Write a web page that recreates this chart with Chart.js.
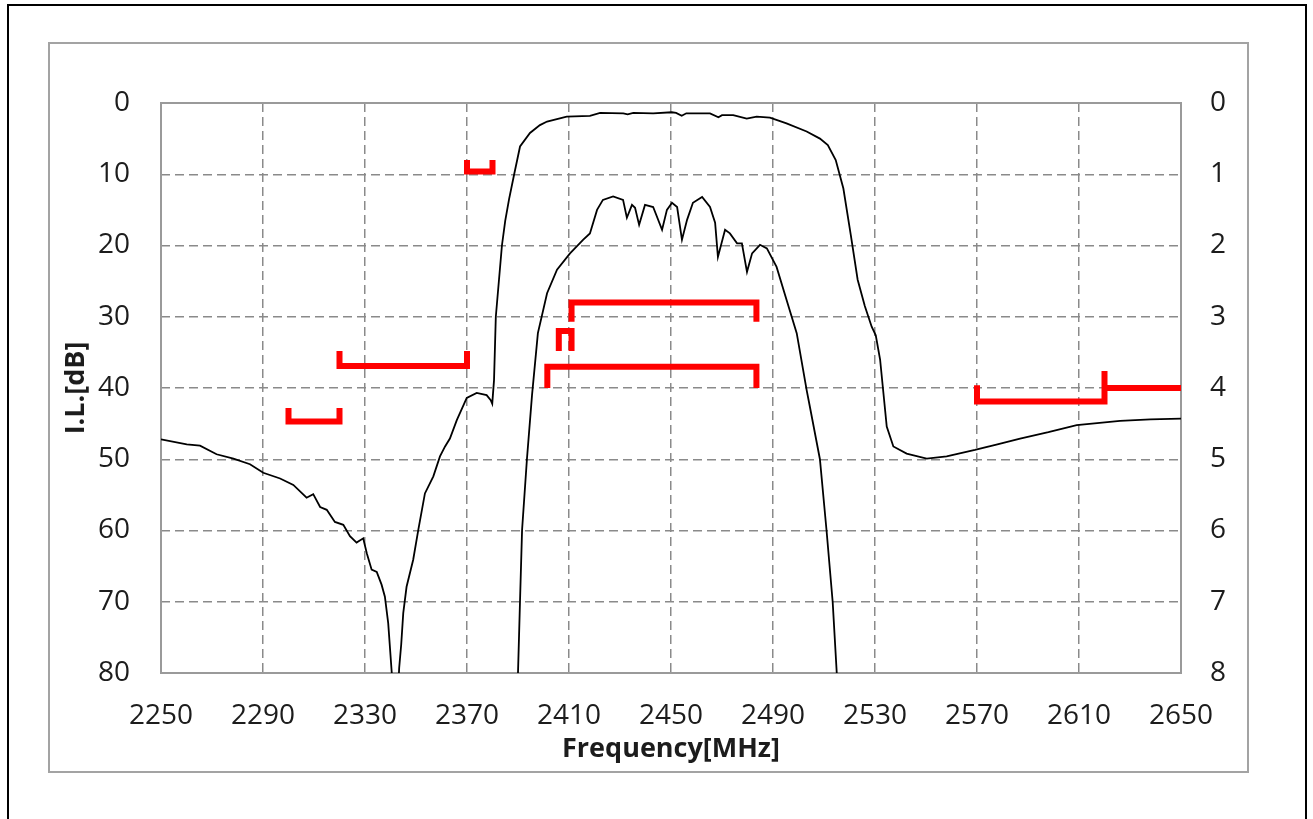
<!DOCTYPE html>
<html>
<head>
<meta charset="utf-8">
<title>I.L. vs Frequency</title>
<script src="https://cdn.jsdelivr.net/npm/chart.js@4/dist/chart.umd.min.js"></script>
<style>
  html, body { margin: 0; padding: 0; background: #fff; }
  #wrap { width: 1313px; height: 819px; }
</style>
</head>
<body>
<div id="wrap"><canvas id="ilChart" width="1313" height="819"></canvas></div>
<script>
// --- Axis ticks ---
const freqTicks = [2250, 2290, 2330, 2370, 2410, 2450, 2490, 2530, 2570, 2610, 2650];
const ilTicksLeft = [0, 10, 20, 30, 40, 50, 60, 70, 80];   // dB, wideband scale
const ilTicksRight = [0, 1, 2, 3, 4, 5, 6, 7, 8];          // dB, passband zoom

// --- Wideband attenuation curve (left axis, dB) ---
const wideFreq = [
  2250, 2260.1, 2265.3, 2271.8, 2278.4, 2284.9, 2290.1, 2296.7, 2301.9, 2307.1,
  2309.7, 2312.4, 2315, 2318.2, 2321.5, 2324.1, 2326.7, 2329.3, 2330.7, 2332.6,
  2334.6, 2336.5, 2337.8, 2339.1, 2340.5, 2341.5, 2342.8, 2343.4, 2344.2, 2345.0,
  2346.3, 2348.9, 2350.9, 2353.5, 2356.8, 2359.4, 2361.4, 2363.3, 2366, 2369.9,
  2373.8, 2377.7, 2379.3, 2379.9, 2380.6, 2381.3, 2383.7, 2385.0, 2386.5, 2388.5,
  2390.8, 2394.7, 2398.6, 2401.4, 2409.1, 2418.2, 2422.2, 2431.3, 2433, 2435.2,
  2443, 2450.3, 2452, 2454.2, 2456, 2458.8, 2465.3, 2468.6, 2470, 2474.4,
  2479.7, 2483.6, 2488.8, 2495.3, 2503.2, 2508.4, 2511.5, 2514.6, 2517.6, 2520.5,
  2523.2, 2526, 2528.7, 2530.3, 2532, 2533.3, 2534.6, 2537.2, 2542.4, 2550.3,
  2558.1, 2569.2, 2578, 2586.9, 2598, 2609.1, 2626.1, 2638, 2650
];
const wideDb = [
  47.2, 47.9, 48.1, 49.3, 49.9, 50.7, 51.9, 52.7, 53.6, 55.4,
  54.9, 56.7, 57.1, 58.8, 59.2, 60.8, 61.7, 61.1, 63.2, 65.5,
  65.8, 67.6, 69.3, 73.0, 80.0, 84, 84, 79.3, 76.0, 71.6,
  67.9, 64.1, 59.9, 54.8, 52.4, 49.6, 48.2, 47.1, 44.5, 41.4,
  40.7, 41.0, 41.7, 42.2, 38.9, 30, 20, 16.5, 13.5, 10,
  6.1, 4.2, 3.1, 2.6, 1.9, 1.8, 1.4, 1.45, 1.6, 1.4,
  1.45, 1.3, 1.4, 1.8, 1.45, 1.45, 1.45, 2.0, 1.7, 1.7,
  2.2, 1.9, 2.06, 2.85, 4.0, 5.0, 5.9, 8.0, 12.0, 18.5,
  24.8, 28.5, 31.4, 32.6, 36.0, 40.7, 45.4, 48.2, 49.2, 49.9,
  49.6, 48.7, 47.9, 47.1, 46.2, 45.2, 44.6, 44.4, 44.3
];

// --- Passband insertion loss curve (right axis, dB) ---
const passFreq = [
  2390, 2390.8, 2391.6, 2393.5, 2395.5, 2397.8, 2401.4, 2405.3, 2410.4, 2415.5,
  2418.2, 2421, 2423.3, 2427.3, 2431.2, 2432.7, 2434.7, 2435.9, 2437.5, 2439.8,
  2443, 2446.5, 2448.4, 2450.4, 2452.4, 2454.3, 2456.3, 2458.6, 2462.2, 2465.3,
  2467.3, 2468.4, 2471.2, 2473.1, 2475.9, 2477.8, 2479.8, 2481.8, 2484.9, 2487.6,
  2491.4, 2495.3, 2499.3, 2503.2, 2504.5, 2508.4, 2511.0, 2513.4, 2515.0
];
const passDb = [
  8.0, 6.98, 5.99, 5.0, 4.1, 3.23, 2.67, 2.34, 2.11, 1.92,
  1.83, 1.50, 1.36, 1.31, 1.36, 1.61, 1.43, 1.47, 1.71, 1.43,
  1.46, 1.78, 1.5, 1.40, 1.46, 1.92, 1.64, 1.40, 1.32, 1.46,
  1.68, 2.16, 1.78, 1.83, 1.97, 1.97, 2.37, 2.11, 1.99, 2.04,
  2.30, 2.76, 3.23, 4.03, 4.27, 5.0, 6.0, 7.0, 8.0
];

// --- Spec masks: stopband (left axis) ---
const specLow1Freq = [2300, 2300, 2320, 2320];
const specLow1Db = [42.8, 44.7, 44.7, 42.8];
const specLow2Freq = [2320, 2320, 2370, 2370];
const specLow2Db = [34.8, 36.9, 36.9, 34.8];
const specLow3Freq = [2370, 2370, 2380, 2380];
const specLow3Db = [8.0, 9.6, 9.6, 8.0];
const specHigh1Freq = [2570, 2570, 2620, 2620];
const specHigh1Db = [39.6, 41.9, 41.9, 37.6];
const specHigh2Freq = [2620, 2650];
const specHigh2Db = [40.0, 40.0];

// --- Spec masks: passband (right axis) ---
const specPass1Freq = [2411, 2411, 2483.5, 2483.5];
const specPass1Db = [3.07, 2.8, 2.8, 3.07];
const specPass2Freq = [2406, 2406, 2411, 2411];
const specPass2Db = [3.48, 3.2, 3.2, 3.48];
const specPass3Freq = [2401.5, 2401.5, 2483.5, 2483.5];
const specPass3Db = [4.0, 3.7, 3.7, 4.0];

const toPoints = (xs, ys) => xs.map((x, i) => ({ x: x, y: ys[i] }));

const TEXT = '#1c1c1c';
const FONT = 'Open Sans';
const GRID = '#8a8a8a';

function specLine(xs, ys, axis) {
    return {
        data: toPoints(xs, ys),
        yAxisID: axis,
        showLine: true,
        borderColor: '#ff0000',
        borderWidth: 6,
        borderCapStyle: 'butt',
        borderJoinStyle: 'miter',
        pointRadius: 0,
        order: 0
    };
}

function curveLine(xs, ys, axis) {
    return {
        data: toPoints(xs, ys),
        yAxisID: axis,
        showLine: true,
        borderColor: '#000000',
        borderWidth: 1.8,
        pointRadius: 0,
        tension: 0,
        order: 1
    };
}

// cadres (fond, bordure externe, cadre gris, contour de la zone de tracé)
const framePlugin = {
    id: 'frames',
    beforeDraw(chart) {
        const c = chart.ctx;
        c.save();
        c.fillStyle = '#ffffff';
        c.fillRect(0, 0, chart.width, chart.height);
        c.strokeStyle = '#000000';
        c.lineWidth = 2;
        c.strokeRect(8, 5, 1298, 840);
        c.strokeStyle = '#a3a3a3';
        c.lineWidth = 2;
        c.strokeRect(49, 43, 1199, 729);
        c.restore();
    },
    beforeDatasetsDraw(chart) {
        const { ctx: c, chartArea: a } = chart;
        c.save();
        c.strokeStyle = '#9a9a9a';
        c.lineWidth = 2;
        c.strokeRect(a.left, a.top, a.right - a.left, a.bottom - a.top);
        c.restore();
    }
};

const gridOpts = { color: GRID, lineWidth: 1.5, drawTicks: false, borderDash: [9, 5] };
const borderOpts = { display: false, dash: [9, 5] };
const plainLabel = v => String(v);

new Chart(document.getElementById('ilChart').getContext('2d'), {
    type: 'scatter',
    data: {
        datasets: [
            specLine(specLow1Freq, specLow1Db, 'y'),
            specLine(specLow2Freq, specLow2Db, 'y'),
            specLine(specLow3Freq, specLow3Db, 'y'),
            specLine(specHigh1Freq, specHigh1Db, 'y'),
            specLine(specHigh2Freq, specHigh2Db, 'y'),
            specLine(specPass1Freq, specPass1Db, 'y2'),
            specLine(specPass2Freq, specPass2Db, 'y2'),
            specLine(specPass3Freq, specPass3Db, 'y2'),
            curveLine(wideFreq, wideDb, 'y'),
            curveLine(passFreq, passDb, 'y2')
        ]
    },
    options: {
        responsive: false,
        animation: false,
        devicePixelRatio: 1,
        layout: { padding: { top: 103, left: 0, right: 0, bottom: 0 } },
        plugins: {
            legend: { display: false },
            tooltip: { enabled: false }
        },
        scales: {
            x: {
                type: 'linear',
                position: 'bottom',
                min: 2250,
                max: 2650,
                afterBuildTicks: s => { s.ticks = freqTicks.map(v => ({ value: v })); },
                afterFit: s => { s.height = 146; },
                ticks: {
                    color: TEXT, padding: 26, maxRotation: 0, autoSkip: false,
                    font: { family: FONT, size: 28 },
                    callback: plainLabel
                },
                grid: gridOpts,
                border: borderOpts,
                title: {
                    display: true, text: 'Frequency[MHz]', color: TEXT,
                    font: { family: FONT, size: 27, weight: 'bold' },
                    padding: { top: 0, bottom: 53 }
                }
            },
            y: {
                type: 'linear',
                position: 'left',
                min: 0,
                max: 80,
                reverse: true,
                afterBuildTicks: s => { s.ticks = ilTicksLeft.map(v => ({ value: v })); },
                afterFit: s => { s.width = 161; },
                ticks: { color: TEXT, padding: 31, font: { family: FONT, size: 28 }, callback: plainLabel },
                grid: gridOpts,
                border: borderOpts,
                title: {
                    display: true, text: 'I.L.[dB]', color: TEXT,
                    font: { family: FONT, size: 27, weight: 'bold' },
                    padding: { top: 60, bottom: 0 }
                }
            },
            y2: {
                type: 'linear',
                position: 'right',
                min: 0,
                max: 8,
                reverse: true,
                afterBuildTicks: s => { s.ticks = ilTicksRight.map(v => ({ value: v })); },
                afterFit: s => { s.width = 132; },
                ticks: { color: TEXT, padding: 29, font: { family: FONT, size: 28 }, callback: plainLabel },
                grid: { drawOnChartArea: false, drawTicks: false },
                border: { display: false }
            }
        }
    },
    plugins: [framePlugin]
});
</script>
</body>
</html>
